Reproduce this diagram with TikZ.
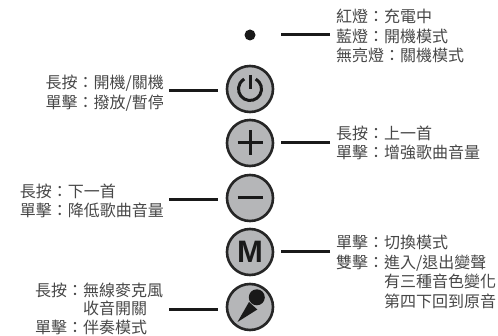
\documentclass[tikz,border=0pt]{standalone}
\usepackage{fontspec}
\setmainfont{Noto Sans CJK TC}
\newfontfamily\latinbold{Liberation Sans}[BoldFont={Liberation Sans Bold}]
\tikzset{
  x=1pt,y=-1pt,
  btn/.style={circle,draw=black!85,line width=2.6pt,fill=btngray,minimum size=46pt,inner sep=0pt},
  conn/.style={draw=black!90,line width=3pt},
  icon/.style={draw=black!90,line width=3pt},
  lbl/.style={font=\fontsize{16}{19.6}\selectfont,text=black!72,inner sep=0pt},
  lblr/.style={lbl,anchor=west,align=left},
  lbll/.style={lbl,anchor=east,align=right},
}
\definecolor{btngray}{HTML}{B5B6B8}
\begin{document}
\begin{tikzpicture}
\useasboundingbox (0,0) rectangle (498,336);
% buttons
\node[circle,fill=black!90,minimum size=11pt,inner sep=0pt] (led) at (250,35) {};
\node[btn] (pw) at (250,89) {};
\node[btn] (pl) at (250,143) {};
\node[btn] (mn) at (250,198) {};
\node[btn] (md) at (250,252) {\fontsize{31}{31}\selectfont\latinbold\bfseries\textcolor{black!90}{M}};
\node[btn] (mc) at (250,307) {};
% icons
\draw[icon] (255.75,79.04) arc[start angle=-60,end angle=240,radius=11.5];
\draw[icon] (250,75) -- (250,89);
\draw[icon] (237.5,143) -- (262.5,143);
\draw[icon] (250,130.5) -- (250,155.5);
\draw[icon] (237.5,198) -- (262.5,198);
\fill[black!90] (256.8,297.3) circle[radius=8];
\fill[black!90] (237.5,322) -- (249,302) -- (257.3,309.5) -- cycle;
% labels right
\node[lblr] (tled) at (336,36) {紅燈：充電中\\藍燈：開機模式\\無亮燈：關機模式};
\node[lblr] (tpl) at (336,143) {長按：上一首\\單擊：增強歌曲音量};
\node[lblr] (tmd) at (336,272) {單擊：切換模式\\雙擊：進入/退出變聲\\\hspace*{48pt}有三種音色變化\\\hspace*{48pt}第四下回到原音};
% labels left
\node[lbll] (tpw) at (164,93) {長按：開機/關機\\單擊：撥放/暫停};
\node[lbl,anchor=east,align=left] (tmn) at (164,201) {長按：下一首\\單擊：降低歌曲音量};
\node[lbl,font=\fontsize{16}{18.6}\selectfont,anchor=west,align=left] (tmc) at (35,308.5) {長按：無線麥克風\\\hspace*{48pt}收音開關\\單擊：伴奏模式};
% connector ends
\coordinate (eled) at (330,35);
\coordinate (epl) at (330,143);
\coordinate (emd) at (330,252);
\coordinate (epw) at (169,91);
\coordinate (emn) at (169,200);
\coordinate (emc) at (169,310);
\draw[conn,shorten >=25.5pt] (eled) -- (led.east|-eled) ;
\draw[conn,shorten >=7pt] (epl) -- (pl.east|-epl);
\draw[conn,shorten >=7pt] (emd) -- (md.east|-emd);
\draw[conn,shorten >=8pt] (epw) -- (pw.west|-epw);
\draw[conn,shorten >=8pt] (emn) -- (mn.west|-emn);
\draw[conn,shorten >=8pt] (emc) -- (mc.west|-emc);
\end{tikzpicture}
\end{document}
